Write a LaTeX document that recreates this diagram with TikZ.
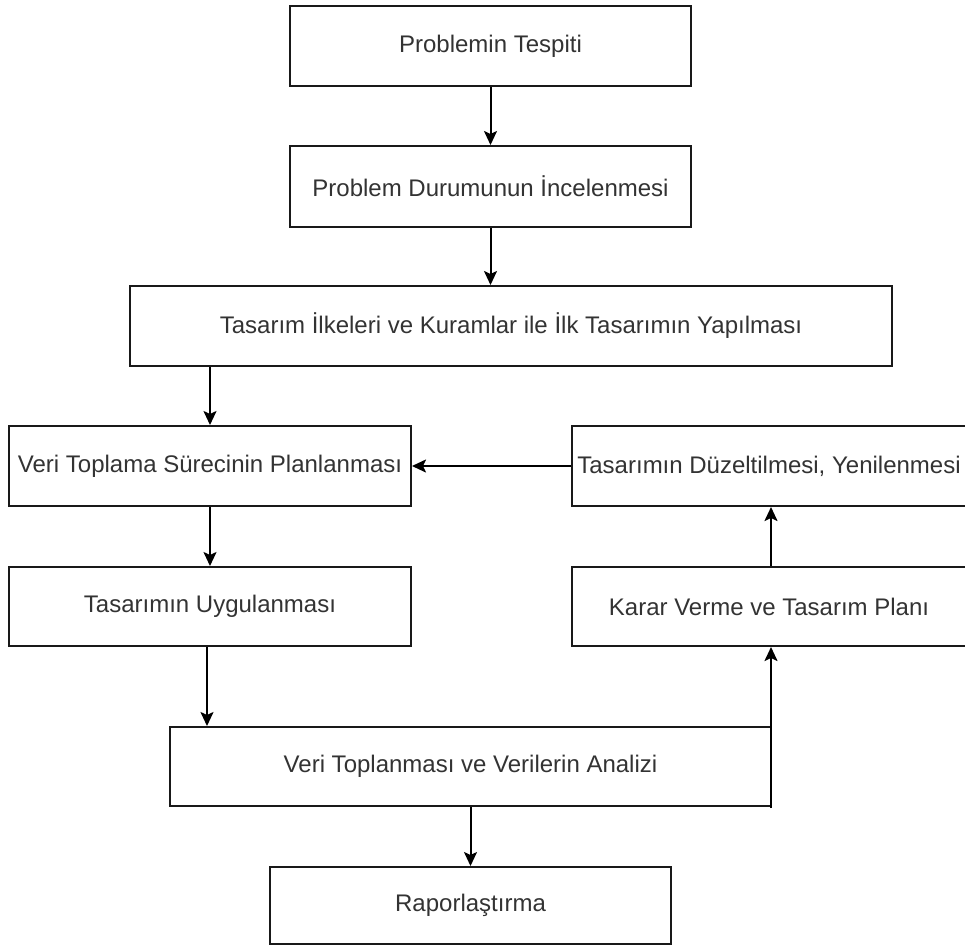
\documentclass[tikz,border=0pt]{standalone}
\usepackage{fontspec}
\setmainfont{Liberation Sans}
\usetikzlibrary{arrows.meta}

\tikzset{
  box/.style={draw=black!90, line width=2pt, fill=white, inner sep=0pt,
    font=\fontsize{24}{28}\selectfont, text=black!80},
  flow/.style={draw=black, line width=2pt,
    -{Stealth[length=14pt, width=13pt, inset=3pt]}},
}

\begin{document}
\begin{tikzpicture}[x=1pt, y=-1pt]
  \useasboundingbox (0,0) rectangle (965,946);

  % process steps
  \node[box, minimum width=401pt, minimum height=80pt] (b1) at (490.5,46) {Problemin Tespiti};
  \node[box, minimum width=401pt, minimum height=81pt] (b2) at (490.5,186.5) {Problem Durumunun İncelenmesi};
  \node[box, minimum width=762pt, minimum height=80pt] (b3) at (511,326) {Tasarım İlkeleri ve Kuramlar ile İlk Tasarımın Yapılması};
  \node[box, minimum width=402pt, minimum height=80pt] (b4) at (210,466) {Veri Toplama Sürecinin Planlanması};
  \node[box, minimum width=394pt, minimum height=80pt] (b5) at (769,466) {Tasarımın Düzeltilmesi, Yenilenmesi};
  \node[box, minimum width=402pt, minimum height=79pt] (b6) at (210,606.5) {Tasarımın Uygulanması};
  \node[box, minimum width=394pt, minimum height=79pt] (b7) at (769,606.5) {Karar Verme ve Tasarım Planı};
  \node[box, minimum width=601pt, minimum height=79pt] (b8) at (470.5,766.5) {Veri Toplanması ve Verilerin Analizi};
  \node[box, minimum width=401pt, minimum height=77pt] (b9) at (470.5,905.5) {Raporlaştırma};

  % feedback corner, on the border line of the analysis box
  \coordinate (fb) at ([shift={(-1pt,-1pt)}]b8.south east);

  % connectors
  \draw[flow] (b1.south) -- (b2.north);
  \draw[flow] (b2.south) -- (b2.south |- b3.north);
  \draw[flow] (b4.north |- b3.south) -- (b4.north);
  \draw[flow] (b4.south) -- (b6.north);
  \draw[flow] ([xshift=-3pt]b6.south) -- ([xshift=-3pt]b6.south |- b8.north);
  \draw[flow] (b8.south) -- (b9.north);
  \draw[flow] (fb) -- (fb |- b7.south);
  \draw[flow] ([xshift=2pt]b7.north) -- ([xshift=2pt]b7.north |- b5.south);
  \draw[flow] (b5.west) -- (b4.east);
\end{tikzpicture}
\end{document}
